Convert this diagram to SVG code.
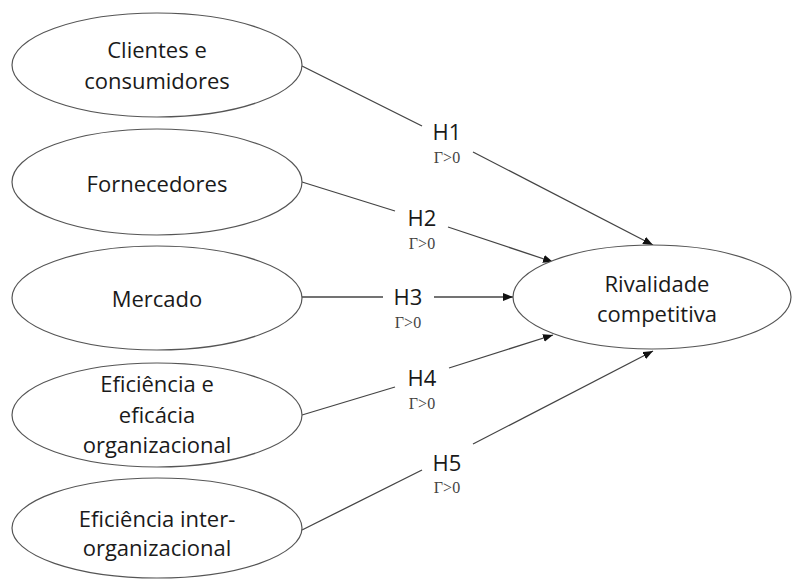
<svg xmlns="http://www.w3.org/2000/svg" width="792" height="579" viewBox="0 0 792 579">
<defs>
<style>
.node ellipse{fill:#fff;stroke:#555;stroke-width:1.2}
.lbl{font-family:"Open Sans","Liberation Sans",sans-serif;font-size:22px;fill:#1a1a1a;text-anchor:middle}
.g{font-family:"Liberation Serif",serif;font-size:16px;fill:#444;text-anchor:middle}
.conn line{stroke:#444;stroke-width:1.3}
</style>
<marker id="arr" viewBox="0 0 10 8" refX="10" refY="4" markerWidth="10" markerHeight="8" markerUnits="userSpaceOnUse" orient="auto">
<path d="M0,0 L10,4 L0,8 Z" fill="#111"/>
</marker>
</defs>
<rect width="792" height="579" fill="#fff"/>
<g id="connectors" class="conn">
<line x1="302" y1="66" x2="422" y2="126"/>
<line x1="473" y1="152" x2="653" y2="245" marker-end="url(#arr)"/>
<line x1="302" y1="182" x2="395" y2="211"/>
<line x1="448" y1="227" x2="553" y2="262" marker-end="url(#arr)"/>
<line x1="302" y1="297" x2="383" y2="297"/>
<line x1="434" y1="297" x2="513" y2="297" marker-end="url(#arr)"/>
<line x1="302" y1="415" x2="395" y2="387"/>
<line x1="449" y1="368" x2="553" y2="335" marker-end="url(#arr)"/>
<line x1="302" y1="530" x2="422" y2="470"/>
<line x1="473" y1="444" x2="653" y2="351" marker-end="url(#arr)"/>
<text class="lbl" x="447" y="140">H1</text>
<text class="g" x="447" y="163">Γ&gt;0</text>
<text class="lbl" x="422" y="226">H2</text>
<text class="g" x="422" y="249">Γ&gt;0</text>
<text class="lbl" x="408" y="305">H3</text>
<text class="g" x="408" y="328">Γ&gt;0</text>
<text class="lbl" x="422" y="386">H4</text>
<text class="g" x="422" y="409">Γ&gt;0</text>
<text class="lbl" x="447" y="471">H5</text>
<text class="g" x="447" y="493">Γ&gt;0</text>
</g>
<g id="clientes" class="node">
<ellipse cx="157" cy="65" rx="145" ry="52"/>
<text class="lbl" x="157" y="58">Clientes e</text>
<text class="lbl" x="157" y="89">consumidores</text>
</g>
<g id="fornecedores" class="node">
<ellipse cx="157" cy="182" rx="145" ry="53"/>
<text class="lbl" x="157" y="192">Fornecedores</text>
</g>
<g id="mercado" class="node">
<ellipse cx="157" cy="298" rx="145" ry="52"/>
<text class="lbl" x="157" y="307">Mercado</text>
</g>
<g id="eficiencia-org" class="node">
<ellipse cx="157" cy="415" rx="145" ry="52"/>
<text class="lbl" x="157" y="392">Eficiência e</text>
<text class="lbl" x="157" y="423">eficácia</text>
<text class="lbl" x="157" y="453">organizacional</text>
</g>
<g id="eficiencia-inter" class="node">
<ellipse cx="157" cy="528" rx="145" ry="50"/>
<text class="lbl" x="157" y="527">Eficiência inter-</text>
<text class="lbl" x="157" y="556">organizacional</text>
</g>
<g id="rivalidade" class="node">
<ellipse cx="652" cy="297" rx="139" ry="52"/>
<text class="lbl" x="657" y="292">Rivalidade</text>
<text class="lbl" x="657" y="322">competitiva</text>
</g>
</svg>
